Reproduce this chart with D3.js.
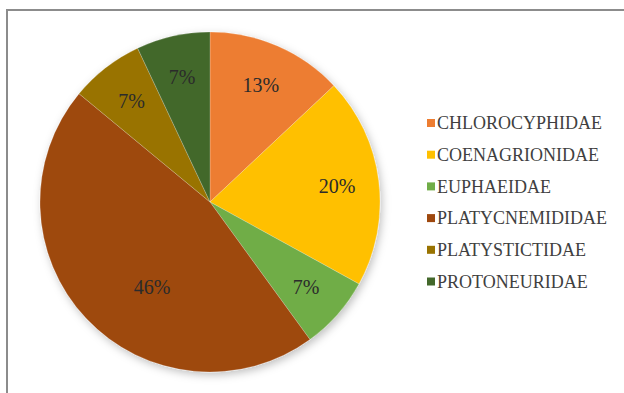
<!DOCTYPE html>
<html>
<head>
<meta charset="utf-8">
<script src="https://cdn.jsdelivr.net/npm/d3@7"></script>
<style>
  html, body { margin: 0; padding: 0; background: #fff; }
  #chart { width: 624px; height: 393px; }
</style>
</head>
<body>
<div id="chart"></div>
<script>
// ── Data ──
const families = ['CHLOROCYPHIDAE', 'COENAGRIONIDAE', 'EUPHAEIDAE', 'PLATYCNEMIDIDAE', 'PLATYSTICTIDAE', 'PROTONEURIDAE'];
const shares = [13, 20, 7, 46, 7, 7];
const colors = ['#ED7D31', '#FFC000', '#70AD47', '#9E480E', '#997300', '#43682B'];

const FONT = 'Liberation Serif';
const width = 624, height = 393;
const cx = 210, cy = 202, r = 170;

const svg = d3.select('#chart').append('svg')
    .attr('width', width)
    .attr('height', height);

// Frame (only left and top edges visible in the crop)
svg.append('path')
    .attr('d', `M7,${height + 5}V10H${width + 5}`)
    .attr('fill', 'none')
    .attr('stroke', '#8c8c8c')
    .attr('stroke-width', 2);

// Soft shadow under the pie
const defs = svg.append('defs');
const f = defs.append('filter').attr('id', 'shadow')
    .attr('x', '-20%').attr('y', '-20%').attr('width', '140%').attr('height', '140%');
f.append('feDropShadow')
    .attr('dx', 2).attr('dy', 3).attr('stdDeviation', 4)
    .attr('flood-color', '#000').attr('flood-opacity', 0.25);

const data = families.map((name, i) => ({ name, value: shares[i], color: colors[i] }));

const pie = d3.pie().value(d => d.value).sort(null);
const arcs = pie(data);
const arc = d3.arc().innerRadius(0).outerRadius(r);

const g = svg.append('g').attr('transform', `translate(${cx},${cy})`);

g.append('g').attr('filter', 'url(#shadow)')
    .selectAll('path')
    .data(arcs)
    .join('path')
    .attr('d', arc)
    .attr('fill', d => d.data.color)
    .attr('stroke', '#fff')
    .attr('stroke-opacity', 0.35)
    .attr('stroke-width', 0.6);

// Labels: most sit near the outer edge, the big slice is pulled in (Excel best fit)
const labelArc = d3.arc().innerRadius(128).outerRadius(128);
g.selectAll('text.pct')
    .data(arcs)
    .join('text')
    .attr('class', 'pct')
    .attr('transform', d => {
        if (d.data.value > 40) {
            const a = (d.startAngle + d.endAngle) / 2 - 0.22;
            return `translate(${Math.sin(a) * 103},${-Math.cos(a) * 103})`;
        }
        return `translate(${labelArc.centroid(d)})`;
    })
    .attr('text-anchor', 'middle')
    .attr('dy', '0.35em')
    .attr('font-family', FONT)
    .attr('font-size', '20px')
    .attr('fill', '#2b2b2b')
    .text(d => d.data.value + '%');

// Legend
const legend = svg.append('g').attr('transform', 'translate(427,123)');
data.forEach((d, i) => {
    const row = legend.append('g').attr('transform', `translate(0,${i * 31.7})`);
    row.append('rect')
        .attr('x', 0).attr('y', -4)
        .attr('width', 8).attr('height', 8)
        .attr('fill', d.color);
    row.append('text')
        .attr('x', 10)
        .attr('dy', '0.35em')
        .attr('font-family', FONT)
        .attr('font-size', '18px')
        .attr('fill', '#404040')
        .text(d.name);
});
</script>
</body>
</html>
